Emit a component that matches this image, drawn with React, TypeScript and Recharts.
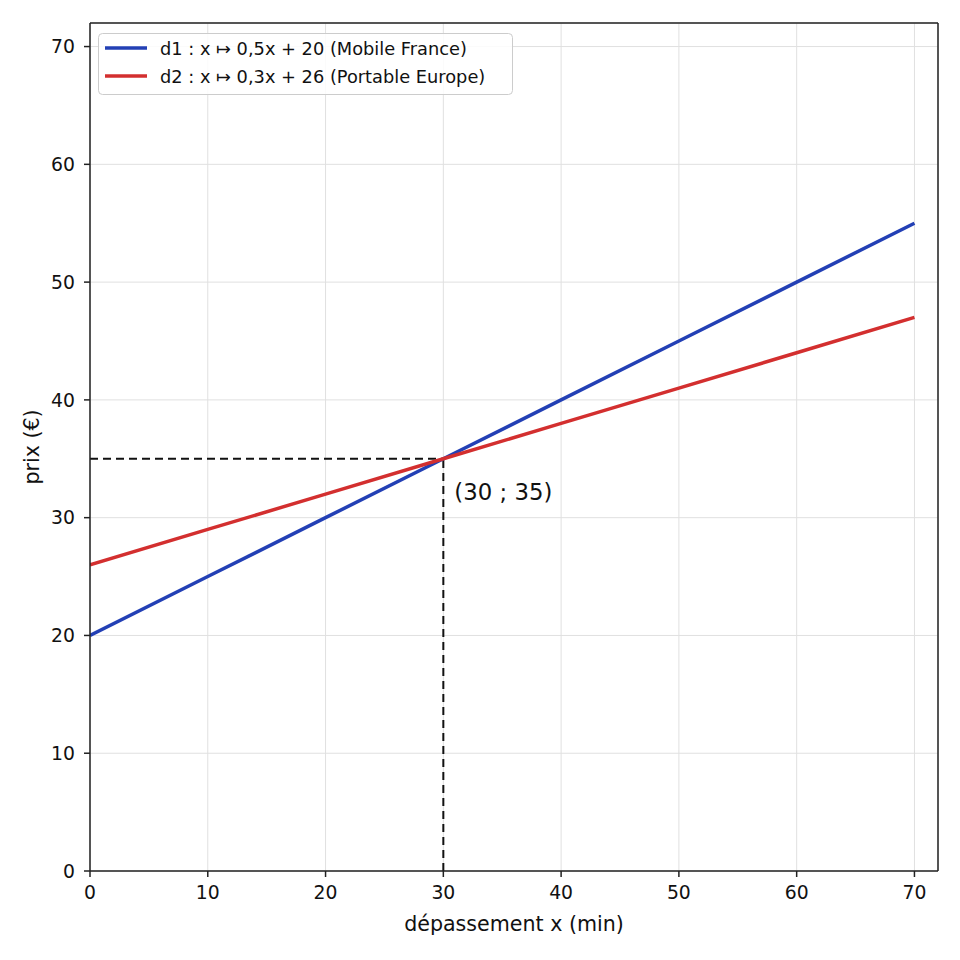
import {
	LineChart,
	Line,
	XAxis,
	YAxis,
	CartesianGrid,
	ReferenceLine,
	ReferenceDot,
} from "recharts";

const xValues = [0, 10, 20, 30, 40, 50, 60, 70];
const d1Values = [20, 25, 30, 35, 40, 45, 50, 55];
const d2Values = [26, 29, 32, 35, 38, 41, 44, 47];
const ticks = [0, 10, 20, 30, 40, 50, 60, 70];
const crossing = { x: 30, y: 35 };

const seriesNames = {
	d1: "d1 : x ↦ 0,5x + 20 (Mobile France)",
	d2: "d2 : x ↦ 0,3x + 26 (Portable Europe)",
};

const data = xValues.map((x, i) => ({ x, d1: d1Values[i], d2: d2Values[i] }));

const FONT = "DejaVu Sans";
const BLUE = "#2340b5";
const RED = "#d32f2f";
const TICK_SIZE = 18.8;
const LABEL_SIZE = 20.6;

// legend drawn as an svg overlay in the top-left corner of the plot
const LegendBox = () => {
	const items = [
		{ name: seriesNames.d1, color: BLUE },
		{ name: seriesNames.d2, color: RED },
	];
	return (
		<svg
			width={960}
			height={960}
			style={{ position: "absolute", left: 0, top: 0, pointerEvents: "none" }}
		>
			<rect
				x={98.5}
				y={33.5}
				width={414}
				height={61}
				rx={4}
				fill="#ffffff"
				fillOpacity={0.85}
				stroke="#cccccc"
			/>
			{items.map((s, i) => (
				<g key={s.name}>
					<line
						x1={105}
						x2={147}
						y1={48 + i * 28}
						y2={48 + i * 28}
						stroke={s.color}
						strokeWidth={3.5}
					/>
					<text
						x={160}
						y={48 + i * 28}
						dominantBaseline="central"
						fontFamily={FONT}
						fontSize={17.8}
						fill="#111"
					>
						{s.name}
					</text>
				</g>
			))}
		</svg>
	);
};

const YLabel = ({ viewBox }) => {
	const cx = 32;
	const cy = viewBox.y + viewBox.height / 2;
	return (
		<text
			x={cx}
			y={cy}
			transform={`rotate(-90 ${cx} ${cy})`}
			textAnchor="middle"
			dominantBaseline="central"
			fontFamily={FONT}
			fontSize={LABEL_SIZE}
			fill="#111"
		>
			prix (€)
		</text>
	);
};

const PointLabel = ({ viewBox }) => (
	<text
		x={viewBox.x + 12}
		y={viewBox.y + 42}
		fontFamily={FONT}
		fontSize={22.8}
		fill="#111"
	>
		(30 ; 35)
	</text>
);

const App = () => {
	return (
		<div
			style={{
				position: "absolute",
				left: 0,
				top: 0,
				width: 960,
				height: 960,
				background: "#fff",
			}}
		>
			<LineChart
				width={960}
				height={960}
				data={data}
				margin={{ top: 23, right: 22, left: 30, bottom: 29 }}
			>
				<CartesianGrid stroke="#e0e0e0" strokeWidth={1} />
				<XAxis
					type="number"
					dataKey="x"
					domain={[0, 72]}
					ticks={ticks}
					height={60}
					allowDataOverflow
					tick={{ fontSize: TICK_SIZE, fill: "#111", fontFamily: FONT }}
					tickSize={6}
					tickMargin={9}
					stroke="#222"
					strokeWidth={1.5}
					label={{
						value: "dépassement x (min)",
						position: "insideBottom",
						offset: 0,
						fontSize: LABEL_SIZE,
						fill: "#111",
						fontFamily: FONT,
					}}
				/>
				<YAxis
					type="number"
					domain={[0, 72]}
					ticks={ticks}
					width={60}
					allowDataOverflow
					tick={{ fontSize: TICK_SIZE, fill: "#111", fontFamily: FONT }}
					tickSize={6}
					tickMargin={9}
					stroke="#222"
					strokeWidth={1.5}
					label={<YLabel />}
				/>
				<ReferenceLine y={72} stroke="#222" strokeWidth={1.5} />
				<ReferenceLine x={72} stroke="#222" strokeWidth={1.5} />
				<ReferenceLine
					segment={[
						{ x: 0, y: crossing.y },
						{ x: crossing.x, y: crossing.y },
					]}
					stroke="#111"
					strokeWidth={2}
					strokeDasharray="8 5"
				/>
				<ReferenceLine
					segment={[
						{ x: crossing.x, y: 0 },
						{ x: crossing.x, y: crossing.y },
					]}
					stroke="#111"
					strokeWidth={2}
					strokeDasharray="8 5"
				/>
				<Line
					type="linear"
					dataKey="d1"
					name={seriesNames.d1}
					stroke={BLUE}
					strokeWidth={3.5}
					dot={false}
					isAnimationActive={false}
				/>
				<Line
					type="linear"
					dataKey="d2"
					name={seriesNames.d2}
					stroke={RED}
					strokeWidth={3.5}
					dot={false}
					isAnimationActive={false}
				/>
				<ReferenceDot
					x={crossing.x}
					y={crossing.y}
					r={1}
					fill="none"
					stroke="none"
					label={<PointLabel />}
				/>
			</LineChart>
			<LegendBox />
		</div>
	);
};

export default App;
